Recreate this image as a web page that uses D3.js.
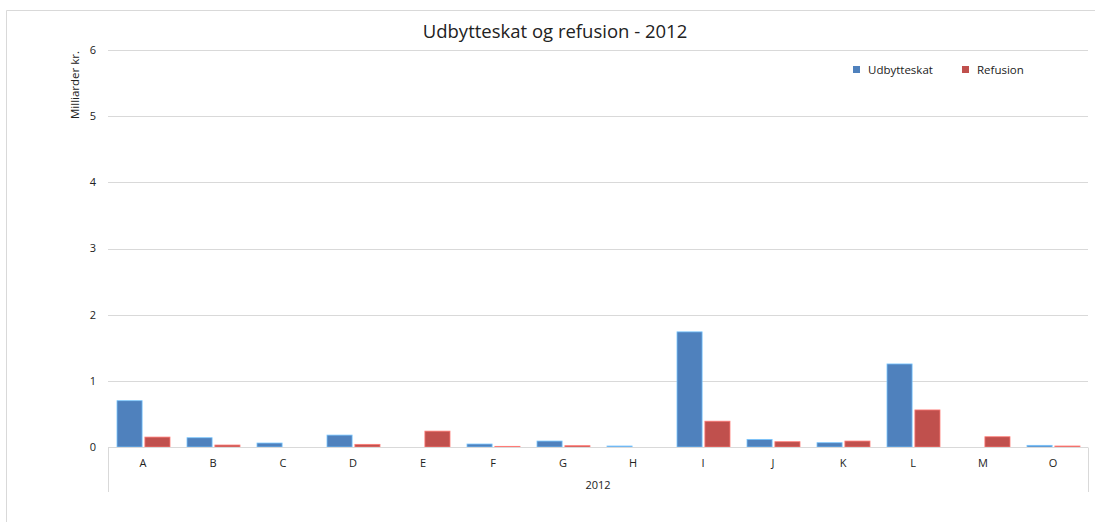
<!DOCTYPE html>
<html>
<head>
<meta charset="utf-8">
<script src="https://cdn.jsdelivr.net/npm/d3@7"></script>
<style>
  body { margin: 0; background: #fff; }
  text { font-family: "Open Sans", "Noto Sans", sans-serif; fill: #222; }
</style>
</head>
<body>
<div id="chart"></div>
<script>
const categories = ["A","B","C","D","E","F","G","H","I","J","K","L","M","O"];
const udbytteskat = [0.70,0.14,0.06,0.18,0,0.045,0.09,0.015,1.74,0.115,0.065,1.255,0,0.025];
const refusion = [0.15,0.03,0,0.04,0.24,0.01,0.02,0,0.39,0.08,0.09,0.56,0.155,0.015];
const yTicks = [0,1,2,3,4,5,6];
const seriesNames = ["Udbytteskat","Refusion"];
const colors = ["#4F81BD","#C0504D"];

const width = 1095, height = 522;
const margin = {left: 108, right: 7, top: 50, bottom: 75};

const svg = d3.select("#chart").append("svg")
  .attr("width", width)
  .attr("height", height);

// outer chart border
svg.append("path")
  .attr("d", `M6.5,${height} V10.5 H${width}`)
  .attr("fill", "none")
  .attr("stroke", "#D9D9D9");

const x = d3.scaleBand()
  .domain(categories)
  .range([margin.left, width - margin.right]);

const x1 = d3.scaleBand()
  .domain(seriesNames)
  .range([9, 62])
  .paddingInner(0.1);

const y = d3.scaleLinear()
  .domain([0, 6])
  .range([height - margin.bottom, margin.top]);

// gridlines
svg.append("g").selectAll("line")
  .data(yTicks.filter(d => d > 0))
  .join("line")
  .attr("x1", margin.left).attr("x2", width - margin.right)
  .attr("y1", d => Math.round(y(d)) + 0.5).attr("y2", d => Math.round(y(d)) + 0.5)
  .attr("stroke", "#D9D9D9");

// y tick labels
svg.append("g").selectAll("text")
  .data(yTicks)
  .join("text")
  .attr("x", 96)
  .attr("y", d => y(d))
  .attr("dy", "0.35em")
  .attr("text-anchor", "end")
  .attr("font-size", 11)
  .text(d => d);

// y axis title
svg.append("text")
  .attr("transform", "translate(79,85) rotate(-90)")
  .attr("text-anchor", "middle")
  .attr("font-size", 11.5)
  .text("Milliarder kr.");

// bars
const data = categories.map((c, i) => ({cat: c, vals: [udbytteskat[i], refusion[i]]}));
const groups = svg.append("g").selectAll("g")
  .data(data)
  .join("g")
  .attr("transform", d => `translate(${x(d.cat)},0)`);

groups.selectAll("rect")
  .data(d => d.vals.map((v, j) => ({name: seriesNames[j], v: v, j: j})))
  .join("rect")
  .attr("x", d => x1(d.name))
  .attr("width", x1.bandwidth())
  .attr("y", d => y(d.v))
  .attr("height", d => y(0) - y(d.v))
  .attr("fill", d => colors[d.j])
  .attr("stroke", d => d3.color(colors[d.j]).brighter(1.2))
  .attr("stroke-width", d => d.v > 0 ? 0.8 : 0);

// x axis baseline and category frame
const y0 = Math.round(y(0)) + 0.5;
svg.append("line")
  .attr("x1", margin.left).attr("x2", width - margin.right)
  .attr("y1", y0).attr("y2", y0)
  .attr("stroke", "#D9D9D9");
svg.selectAll("line.edge")
  .data([margin.left, width - margin.right])
  .join("line")
  .attr("class", "edge")
  .attr("x1", d => d + 0.5).attr("x2", d => d + 0.5)
  .attr("y1", y0).attr("y2", 492)
  .attr("stroke", "#D9D9D9");

svg.append("g").selectAll("text")
  .data(categories)
  .join("text")
  .attr("x", d => x(d) + x.bandwidth() / 2)
  .attr("y", 467)
  .attr("text-anchor", "middle")
  .attr("font-size", 11)
  .text(d => d);

svg.append("text")
  .attr("x", (margin.left + width - margin.right) / 2)
  .attr("y", 489)
  .attr("text-anchor", "middle")
  .attr("font-size", 11)
  .text("2012");

// title
svg.append("text")
  .attr("x", 555)
  .attr("y", 38)
  .attr("text-anchor", "middle")
  .attr("font-size", 18.5)
  .text("Udbytteskat og refusion - 2012");

// legend
const legendX = [853, 962];
const legend = svg.append("g").selectAll("g")
  .data(seriesNames)
  .join("g")
  .attr("transform", (d, i) => `translate(${legendX[i]},66)`);
legend.append("rect")
  .attr("width", 7).attr("height", 7)
  .attr("fill", (d, i) => colors[i]);
legend.append("text")
  .attr("x", 15).attr("y", 4)
  .attr("dy", "0.35em")
  .attr("font-size", 11.5)
  .text(d => d);
</script>
</body>
</html>
